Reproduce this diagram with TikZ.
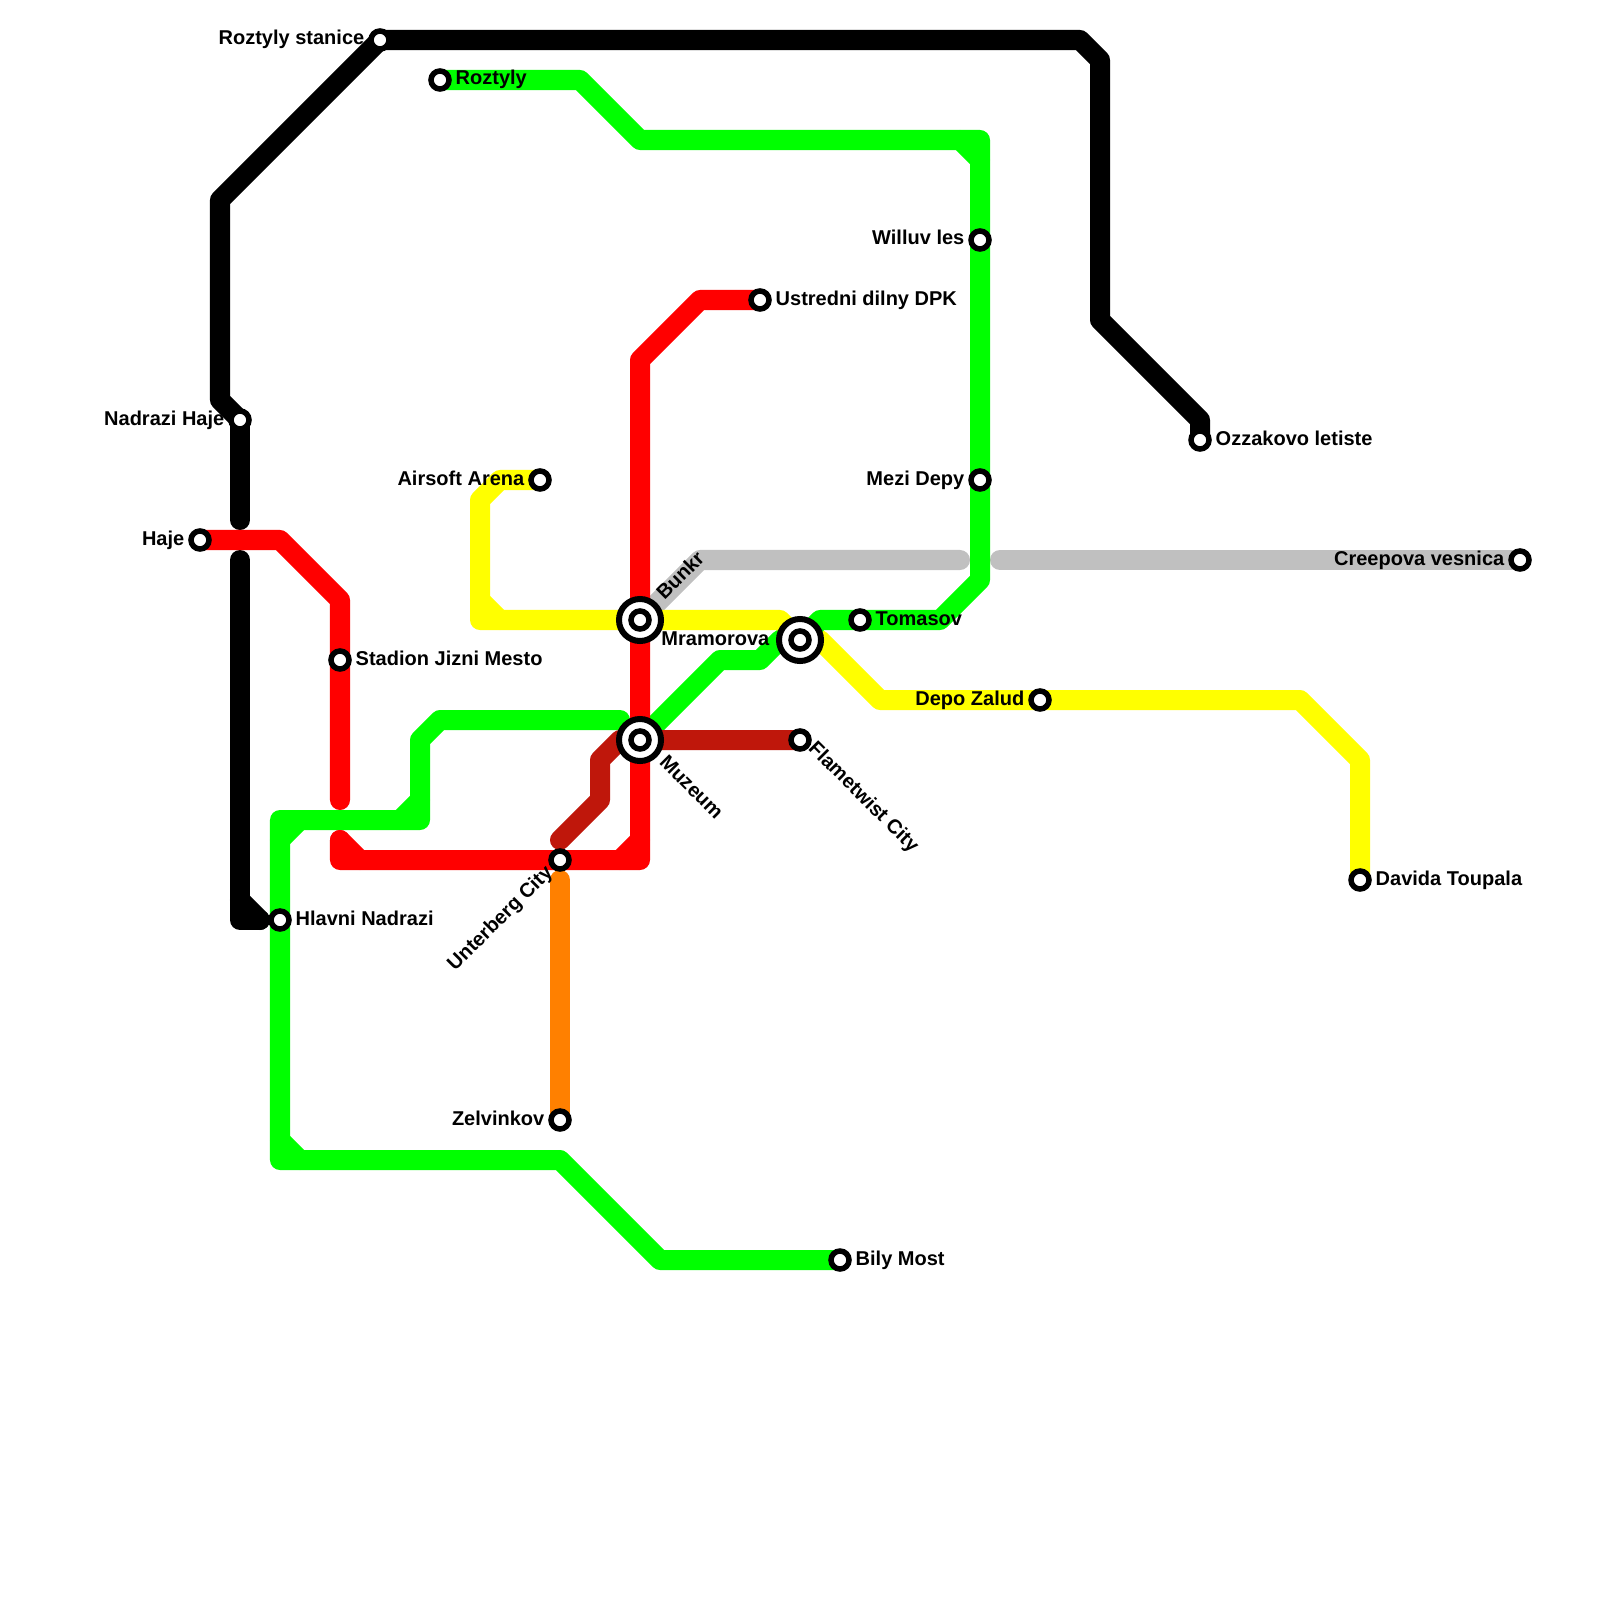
\documentclass[tikz,border=0pt]{standalone}
\usepackage{fontspec}
\setmainfont{Liberation Sans}
\usetikzlibrary{backgrounds}
\definecolor{linegreen}{HTML}{00FF00}
\definecolor{linered}{HTML}{FF0000}
\definecolor{lineyellow}{HTML}{FFFF00}
\definecolor{linegray}{HTML}{C0C0C0}
\definecolor{linebrick}{HTML}{BF170B}
\definecolor{lineorange}{HTML}{FF8000}
\tikzset{
  metro/.style={line width=0.2cm,line cap=round,line join=round},
  stop/.style={circle,draw=black,fill=white,line width=0.055cm,inner sep=0pt,outer sep=0pt,minimum size=0.18cm},
  hub/.style={circle,draw=black,fill=white,line width=0.06cm,inner sep=0pt,outer sep=0pt,minimum size=0.42cm},
  lbl/.style={font=\fontsize{5.69pt}{7pt}\selectfont\bfseries,inner sep=0pt,text=black}
}

\begin{document}
\begin{tikzpicture}[x=0.01cm,y=-0.01cm]
    \useasboundingbox (0,0) rectangle (1600,1600);
    % interchanges
    \node[hub] (muzeumhub) at (640,740) {};
    \node[hub] (mramorovahub) at (800,640) {};
    \node[hub] (bunkrhub) at (640,620) {};
    % stops
    \node[stop] (stanice) at (380,40) {};
    \node[stop] (roztyly) at (440,80) {};
    \node[stop] (nadrazihaje) at (240,420) {};
    \node[stop] (haje) at (200,540) {};
    \node[stop] (stadion) at (340,660) {};
    \node[stop] (hlavni) at (280,920) {};
    \node[stop] (unterberg) at (560,860) {};
    \node[stop] (zelvinkov) at (560,1120) {};
    \node[stop] (bily) at (840,1260) {};
    \node[stop] (airsoft) at (540,480) {};
    \node[stop] (bunkr) at (640,620) {};
    \node[stop] (muzeum) at (640,740) {};
    \node[stop] (mramorova) at (800,640) {};
    \node[stop] (flametwist) at (800,740) {};
    \node[stop] (ustredni) at (760,300) {};
    \node[stop] (tomasov) at (860,620) {};
    \node[stop] (willuv) at (980,240) {};
    \node[stop] (mezi) at (980,480) {};
    \node[stop] (depo) at (1040,700) {};
    \node[stop] (ozzakovo) at (1200,440) {};
    \node[stop] (creepova) at (1520,560) {};
    \node[stop] (davida) at (1360,880) {};
    % labels
    \node[lbl,anchor=base east] (lstanice) at (365,45) {Roztyly stanice};
    \node[lbl,anchor=base west] (lroztyly) at (455,85) {Roztyly};
    \node[lbl,anchor=base east] (lnadrazihaje) at (225,425) {Nadrazi Haje};
    \node[lbl,anchor=base east] (lhaje) at (185,545) {Haje};
    \node[lbl,anchor=base west] (lstadion) at (355,665) {Stadion Jizni Mesto};
    \node[lbl,anchor=base west] (lhlavni) at (295,925) {Hlavni Nadrazi};
    \node[lbl,anchor=base east,rotate=45] (lunterberg) at (554,873) {Unterberg City};
    \node[lbl,anchor=base east] (lzelvinkov) at (545,1125) {Zelvinkov};
    \node[lbl,anchor=base west] (lbily) at (855,1265) {Bily Most};
    \node[lbl,anchor=base east] (lairsoft) at (525,485) {Airsoft Arena};
    \node[lbl,anchor=base west,rotate=45] (lbunkr) at (664,601) {Bunkr};
    \node[lbl,anchor=base west,rotate=-45] (lmuzeum) at (658,763) {Muzeum};
    \node[lbl,anchor=base east] (lmramorova) at (770,645) {Mramorova};
    \node[lbl,anchor=base west,rotate=-45] (lflametwist) at (807,749) {Flametwist City};
    \node[lbl,anchor=base west] (lustredni) at (775,305) {Ustredni dilny DPK};
    \node[lbl,anchor=base west] (ltomasov) at (875,625) {Tomasov};
    \node[lbl,anchor=base east] (lwilluv) at (965,245) {Willuv les};
    \node[lbl,anchor=base east] (lmezi) at (965,485) {Mezi Depy};
    \node[lbl,anchor=base east] (ldepo) at (1025,705) {Depo Zalud};
    \node[lbl,anchor=base west] (lozzakovo) at (1215,445) {Ozzakovo letiste};
    \node[lbl,anchor=base east] (lcreepova) at (1505,565) {Creepova vesnica};
    \node[lbl,anchor=base west] (ldavida) at (1375,885) {Davida Toupala};
    % free ends of the broken lines
    \coordinate (blackstop) at (240,520);
    \coordinate (blackgo) at (240,560);
    \coordinate (blackfoot) at (260,920);
    \coordinate (grayleft) at (960,560);
    \coordinate (grayright) at (1000,560);
    \coordinate (orangetop) at (560,880);
    \coordinate (redtop) at (340,800);
    \coordinate (redfoot) at (340,840);
    \coordinate (brickend) at (560,840);
    \coordinate (greenend) at (620,720);

    \begin{scope}[on background layer]
      \fill[white] (0,0) rectangle (1600,1600);
      % black
      \draw[metro,black] (nadrazihaje.center) -- (220,400) -- (220,200) -- (stanice.center)
        -- (1080,40) -- (1100,60) -- (1100,320) -- (1200,420) -- (ozzakovo.center);
      \draw[metro,black] (nadrazihaje.center) -- (blackstop);
      \draw[metro,black] (blackgo) -- (240,920) -- (blackfoot);
      \draw[metro,black] (240,900) -- (blackfoot);
      % gray
      \draw[metro,linegray] (bunkr.center) -- (700,560) -- (grayleft);
      \draw[metro,linegray] (grayright) -- (creepova.center);
      % orange
      \draw[metro,lineorange] (orangetop) -- (zelvinkov.center);
      % yellow
      \draw[metro,lineyellow] (airsoft.center) -- (500,480) -- (480,500) -- (480,620) -- (bunkr.center)
        -- (780,620) -- (mramorova.center) -- (820,640) -- (880,700) -- (depo.center)
        -- (1300,700) -- (1360,760) -- (davida.center);
      \draw[metro,lineyellow] (480,600) -- (500,620);
      % green
      \draw[metro,linegreen] (roztyly.center) -- (580,80) -- (640,140) -- (980,140) -- (willuv.center)
        -- (mezi.center) -- (980,580) -- (940,620) -- (tomasov.center) -- (820,620) -- (mramorova.center);
      \draw[metro,linegreen] (960,140) -- (980,160);
      \draw[metro,linegreen] (mramorova.center) -- (780,640) -- (760,660) -- (720,660) -- (muzeum.center);
      \draw[metro,linegreen] (greenend) -- (440,720) -- (420,740) -- (420,820) -- (280,820)
        -- (hlavni.center) -- (280,1160) -- (560,1160) -- (660,1260) -- (bily.center);
      \draw[metro,linegreen] (420,800) -- (400,820);
      \draw[metro,linegreen] (280,840) -- (300,820);
      \draw[metro,linegreen] (280,1140) -- (300,1160);
      % red
      \draw[metro,linered] (haje.center) -- (280,540) -- (340,600) -- (stadion.center) -- (redtop);
      \draw[metro,linered] (redfoot) -- (340,860) -- (unterberg.center) -- (640,860)
        -- (muzeum.center) -- (bunkr.center) -- (640,360) -- (700,300) -- (ustredni.center);
      \draw[metro,linered] (redfoot) -- (360,860);
      \draw[metro,linered] (620,860) -- (640,840);
      % brick
      \draw[metro,linebrick] (brickend) -- (600,800) -- (600,760) -- (620,740) -- (muzeum.center)
        -- (flametwist.center);
    \end{scope}
  \end{tikzpicture}
\end{document}
